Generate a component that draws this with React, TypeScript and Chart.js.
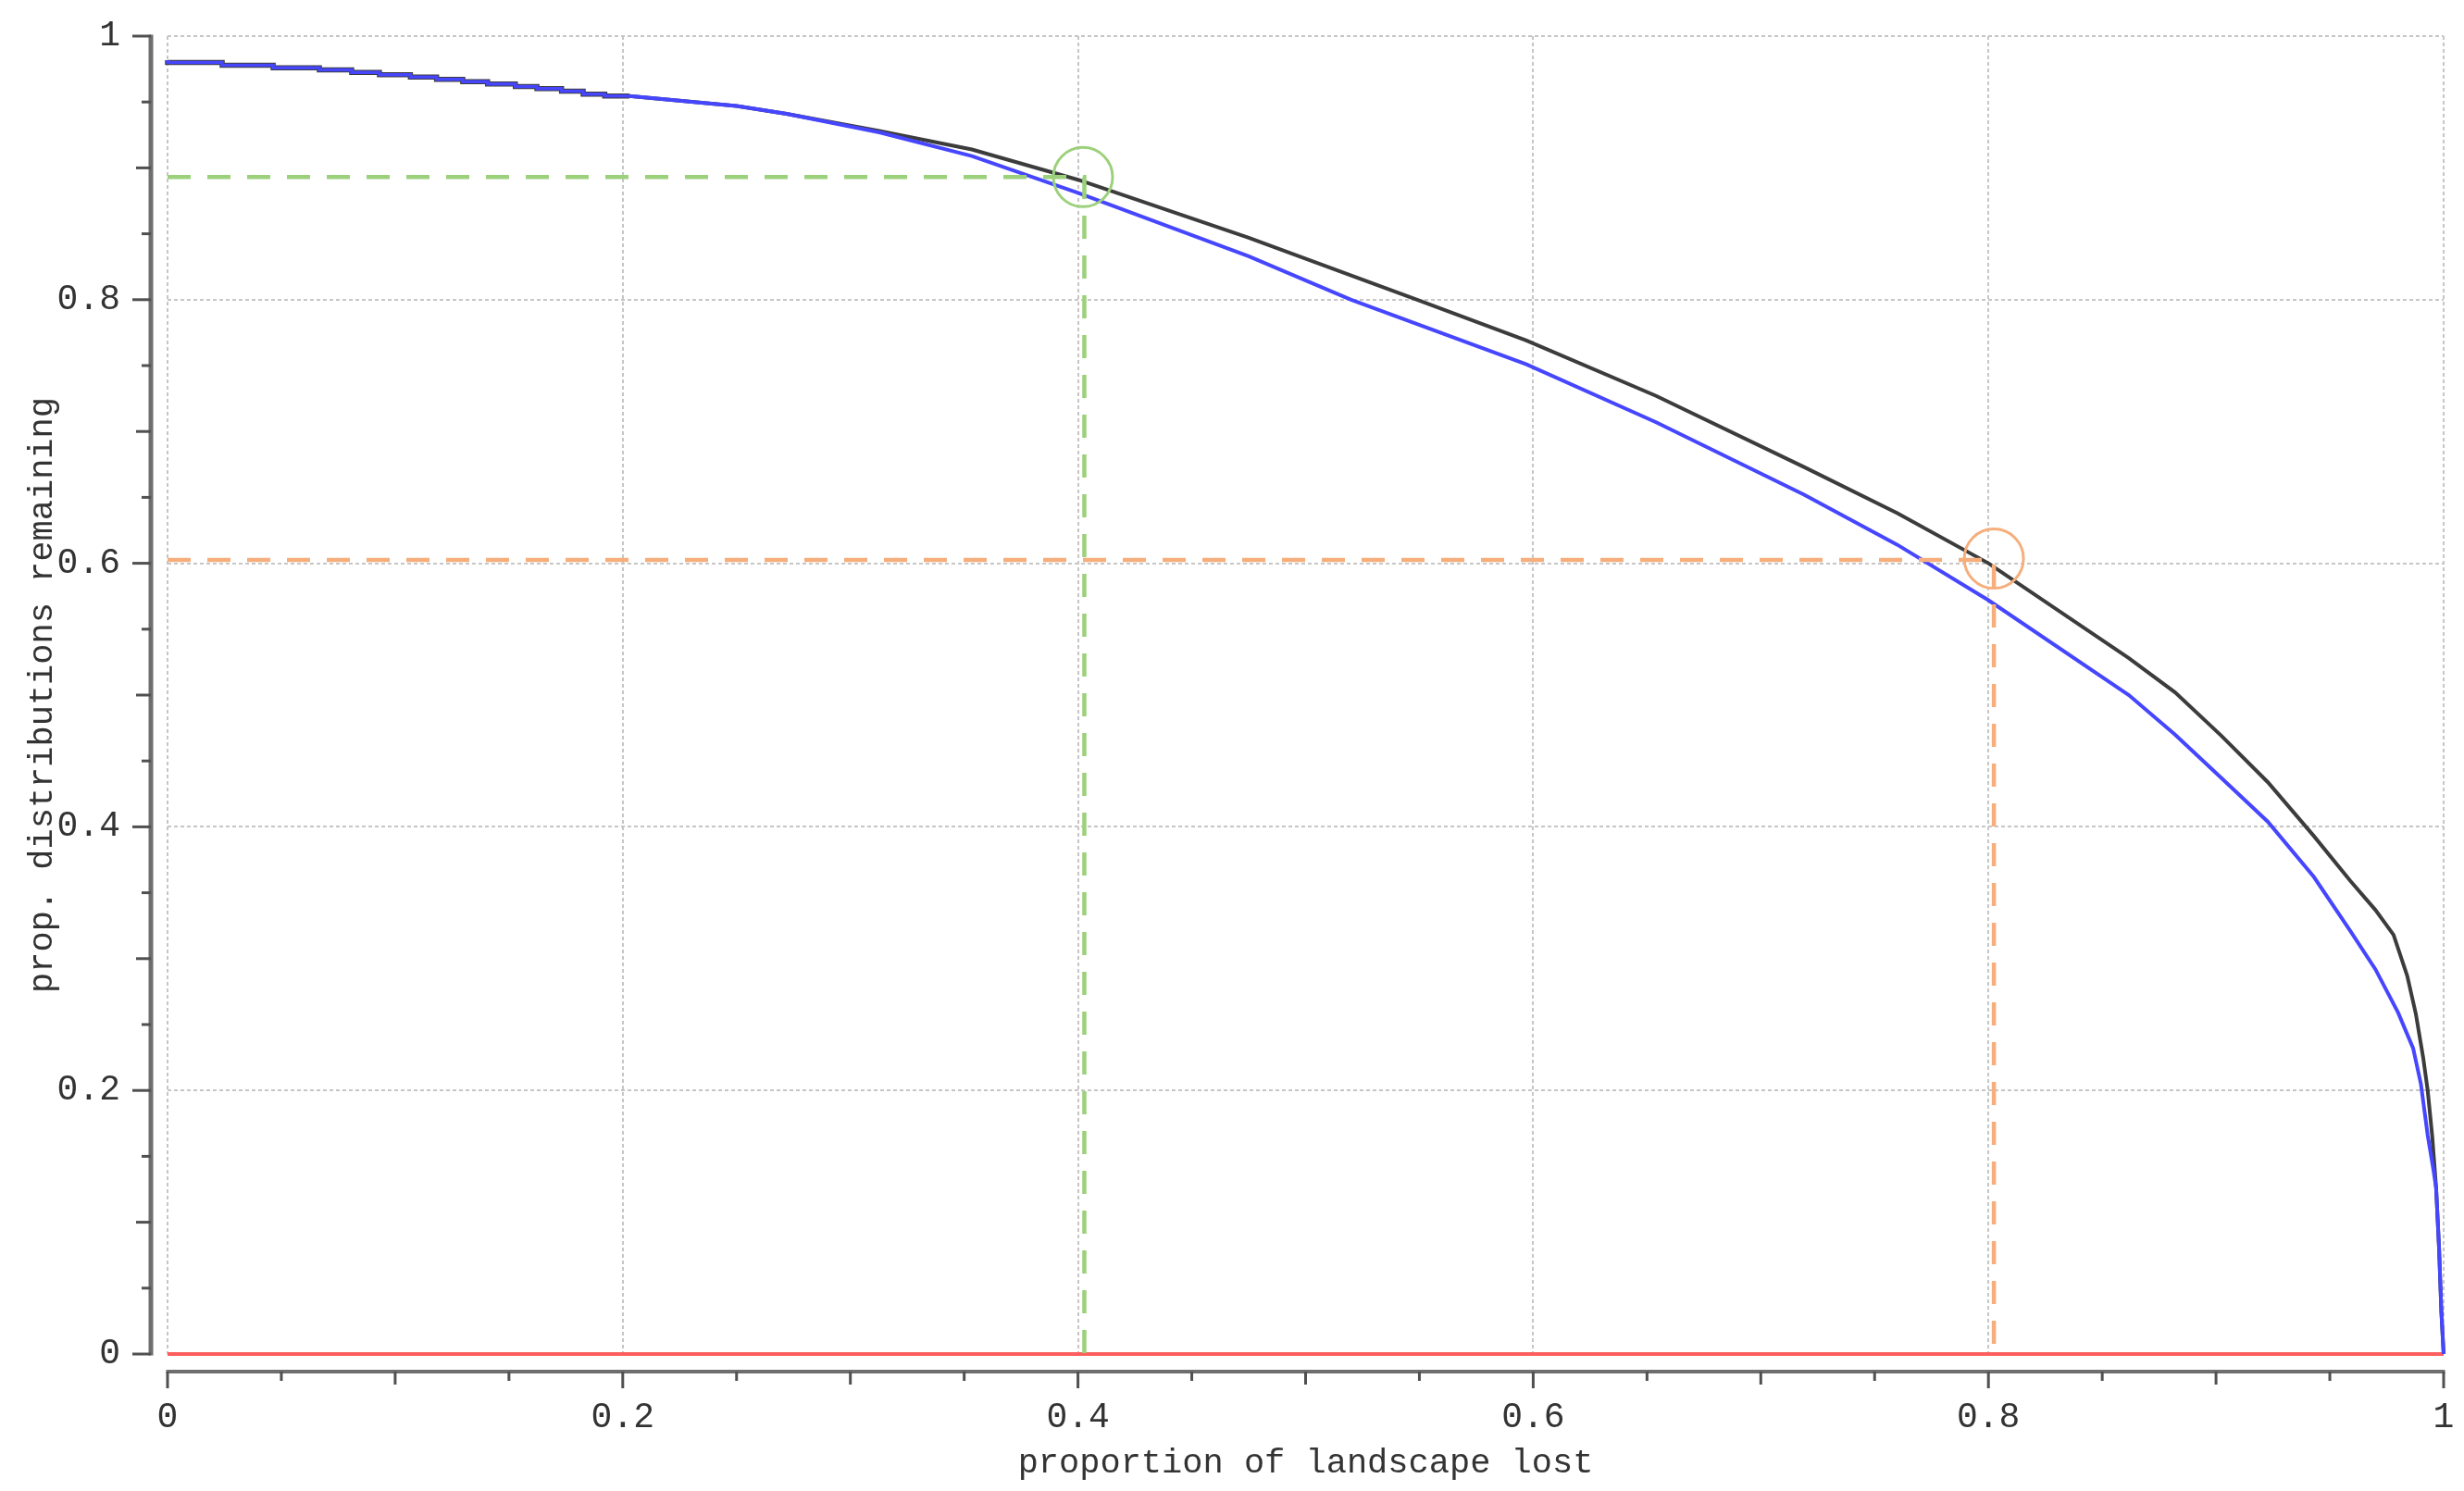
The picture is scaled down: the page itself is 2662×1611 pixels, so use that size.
import React, { useEffect, useRef } from 'react';
import { Chart, registerables } from 'chart.js';

Chart.register(...registerables);

// ---- data ----
// staircase at the start (shared by both curves)
const STAIR_X = [0, 0.024, 0.0464, 0.0667, 0.0809, 0.0931, 0.1067, 0.1182, 0.1297, 0.1406, 0.1528, 0.1623, 0.1731, 0.1826, 0.1921, 0.2029];
const STAIR_Y = [0.9817, 0.9799, 0.9778, 0.9759, 0.9743, 0.9724, 0.9707, 0.9689, 0.9672, 0.9654, 0.9637, 0.9618, 0.9602, 0.9583, 0.956, 0.9545];

const BLACK_X = [0.2029, 0.25, 0.272, 0.3127, 0.3534, 0.4, 0.475, 0.549, 0.597, 0.654, 0.719, 0.76, 0.8, 0.8617, 0.882, 0.9024, 0.9227, 0.943, 0.959, 0.97, 0.978, 0.984, 0.9878, 0.991, 0.993, 0.995, 0.9967, 0.998, 0.999, 1];
const BLACK_Y = [0.9545, 0.947, 0.941, 0.928, 0.914, 0.891, 0.847, 0.8, 0.769, 0.727, 0.673, 0.638, 0.6, 0.528, 0.502, 0.469, 0.434, 0.393, 0.359, 0.337, 0.318, 0.287, 0.258, 0.225, 0.2, 0.165, 0.126, 0.08, 0.032, 0];

const BLUE_X = [0.2029, 0.25, 0.272, 0.3127, 0.3534, 0.4, 0.475, 0.52, 0.597, 0.654, 0.719, 0.76, 0.8, 0.8617, 0.882, 0.9024, 0.9227, 0.943, 0.959, 0.97, 0.98, 0.9866, 0.99, 0.993, 0.9955, 0.9967, 0.998, 0.999, 1];
const BLUE_Y = [0.9545, 0.947, 0.941, 0.927, 0.909, 0.881, 0.833, 0.8, 0.751, 0.707, 0.652, 0.614, 0.572, 0.5, 0.47, 0.437, 0.404, 0.362, 0.321, 0.292, 0.259, 0.232, 0.205, 0.166, 0.14, 0.126, 0.08, 0.032, 0];

const RED_X = [0, 1];
const RED_Y = [0, 0];

const GREEN_REF_X = [0, 0.4028, 0.4028];
const GREEN_REF_Y = [0.893, 0.893, 0];
const ORANGE_REF_X = [0, 0.8024, 0.8024];
const ORANGE_REF_Y = [0.6025, 0.6025, 0];

const MARK_X = [0.4022, 0.8024];
const MARK_Y = [0.893, 0.6035];

const X_TICK_VALUES = [0, 0.2, 0.4, 0.6, 0.8, 1];
const X_TICK_LABELS = ['0', '0.2', '0.4', '0.6', '0.8', '1'];
const Y_TICK_VALUES = [0, 0.2, 0.4, 0.6, 0.8, 1];
const Y_TICK_LABELS = ['0', '0.2', '0.4', '0.6', '0.8', '1'];
const AXIS_TICK_VALUES = [0, 0.05, 0.1, 0.15, 0.2, 0.25, 0.3, 0.35, 0.4, 0.45, 0.5, 0.55, 0.6, 0.65, 0.7, 0.75, 0.8, 0.85, 0.9, 0.95, 1];

const X_TITLE = 'proportion of landscape lost';
const Y_TITLE = 'prop. distributions remaining';

// ---- styles ----
const FONT = '"Liberation Mono", "DejaVu Sans Mono", monospace';
const TEXT_COLOR = '#333333';
const GRID_COLOR = '#c6c6c6';
const AXIS_COLOR = '#6e6e6e';
const TICK_COLOR = '#505050';
const GREEN = '#9cd17c';
const ORANGE = '#f5ae7c';
const MARK_COLORS = [GREEN, ORANGE];
const BLUE = '#4646ff';
const BLACK = '#3c3c3c';
const RED = '#ff5e5e';

const pts = (xs: number[], ys: number[]) => xs.map((x, i) => ({ x, y: ys[i] }));

const markPlugin = {
  id: 'marks',
  afterDatasetsDraw(chart: any) {
    const { ctx } = chart;
    const xs = chart.scales.x;
    const ys = chart.scales.y;
    ctx.save();
    ctx.lineWidth = 3;
    MARK_X.forEach((mx, i) => {
      ctx.strokeStyle = MARK_COLORS[i];
      ctx.beginPath();
      ctx.arc(xs.getPixelForValue(mx), ys.getPixelForValue(MARK_Y[i]), 32, 0, Math.PI * 2);
      ctx.stroke();
    });
    ctx.restore();
  },
};

const offsetAxesPlugin = {
  id: 'offsetAxes',
  afterDraw(chart: any) {
    const { ctx } = chart;
    const xs = chart.scales.x;
    const ys = chart.scales.y;
    const x0 = xs.getPixelForValue(0);
    const x1 = xs.getPixelForValue(1);
    const y0 = ys.getPixelForValue(0);
    const y1 = ys.getPixelForValue(1);
    const axX = x0 - 18;
    const axY = y0 + 19;
    ctx.save();
    ctx.lineCap = 'butt';
    ctx.strokeStyle = AXIS_COLOR;
    ctx.lineWidth = 5;
    ctx.beginPath();
    ctx.moveTo(axX, y1 - 1.5);
    ctx.lineTo(axX, y0 + 1.5);
    ctx.stroke();
    ctx.lineWidth = 4;
    ctx.beginPath();
    ctx.moveTo(x0 - 1.5, axY);
    ctx.lineTo(x1 + 1.5, axY);
    ctx.stroke();
    ctx.strokeStyle = TICK_COLOR;
    ctx.lineWidth = 3;
    AXIS_TICK_VALUES.forEach((v) => {
      const k = Math.round(v * 20);
      const yl = k % 4 === 0 ? 20 : k % 2 === 0 ? 16 : 10;
      const xl = k % 4 === 0 ? 18 : k % 2 === 0 ? 14 : 10;
      const py = ys.getPixelForValue(v);
      ctx.beginPath();
      ctx.moveTo(axX, py);
      ctx.lineTo(axX - yl, py);
      ctx.stroke();
      const px = xs.getPixelForValue(v);
      ctx.beginPath();
      ctx.moveTo(px, axY);
      ctx.lineTo(px, axY + xl);
      ctx.stroke();
    });
    ctx.restore();
  },
};

export default function App() {
  const ref = useRef<HTMLCanvasElement>(null);

  useEffect(() => {
    document.body.style.margin = '0';
    document.body.style.overflow = 'hidden';
    const lineBase = { pointRadius: 0, pointHoverRadius: 0, pointBorderWidth: 0, fill: false, tension: 0, clip: false as any };
    const chart = new Chart(ref.current!, {
      type: 'line',
      data: {
        datasets: [
          { ...lineBase, data: pts(GREEN_REF_X, GREEN_REF_Y), borderColor: GREEN, borderWidth: 4.5, borderDash: [25, 18] },
          { ...lineBase, data: pts(ORANGE_REF_X, ORANGE_REF_Y), borderColor: ORANGE, borderWidth: 4.5, borderDash: [25, 18] },
          { ...lineBase, data: pts(STAIR_X, STAIR_Y), borderColor: BLUE, borderWidth: 3.5, stepped: 'after' },
          { ...lineBase, data: pts(BLUE_X, BLUE_Y), borderColor: BLUE, borderWidth: 4 },
          { ...lineBase, data: pts(STAIR_X, STAIR_Y), borderColor: BLACK, borderWidth: 5.5, stepped: 'after' },
          { ...lineBase, data: pts(BLACK_X, BLACK_Y), borderColor: BLACK, borderWidth: 4 },
          { ...lineBase, data: pts(RED_X, RED_Y), borderColor: RED, borderWidth: 4 },
        ],
      },
      options: {
        animation: false,
        responsive: false,
        maintainAspectRatio: false,
        layout: { autoPadding: false, padding: { top: 39, right: 22, bottom: 0, left: 0 } },
        plugins: { legend: { display: false }, tooltip: { enabled: false } },
        events: [],
        scales: {
          x: {
            type: 'linear',
            min: 0,
            max: 1,
            afterFit: (s: any) => {
              s.height = 148;
              s.paddingLeft = 0;
              s.paddingRight = 0;
            },
            afterBuildTicks: (s: any) => {
              s.ticks = X_TICK_VALUES.map((v) => ({ value: v }));
            },
            ticks: {
              callback: (_v: any, i: number) => X_TICK_LABELS[i],
              padding: 46,
              font: { family: FONT, size: 38 },
              color: TEXT_COLOR,
              maxRotation: 0,
              autoSkip: false,
            },
            grid: { color: GRID_COLOR, lineWidth: 2, drawTicks: false },
            border: { display: false, dash: [4, 3] },
            title: {
              display: true,
              text: X_TITLE,
              font: { family: FONT, size: 37 },
              color: TEXT_COLOR,
              padding: { top: 0, bottom: 8 },
            },
          },
          y: {
            type: 'linear',
            min: 0,
            max: 1,
            afterFit: (s: any) => {
              s.width = 181;
              s.paddingTop = 0;
              s.paddingBottom = 0;
            },
            afterBuildTicks: (s: any) => {
              s.ticks = Y_TICK_VALUES.map((v) => ({ value: v }));
            },
            ticks: {
              callback: (_v: any, i: number) => Y_TICK_LABELS[i],
              padding: 51,
              font: { family: FONT, size: 38 },
              color: TEXT_COLOR,
              autoSkip: false,
            },
            grid: { color: GRID_COLOR, lineWidth: 2, drawTicks: false },
            border: { display: false, dash: [4, 3] },
            title: {
              display: true,
              text: Y_TITLE,
              font: { family: FONT, size: 37 },
              color: TEXT_COLOR,
              padding: { top: 24, bottom: 0 },
            },
          },
        },
      } as any,
      plugins: [markPlugin, offsetAxesPlugin],
    });
    return () => chart.destroy();
  }, []);

  return (
    <div style={{ width: 2662, height: 1611 }}>
      <canvas ref={ref} width={2662} height={1611} style={{ display: 'block', width: 2662, height: 1611 }} />
    </div>
  );
}
